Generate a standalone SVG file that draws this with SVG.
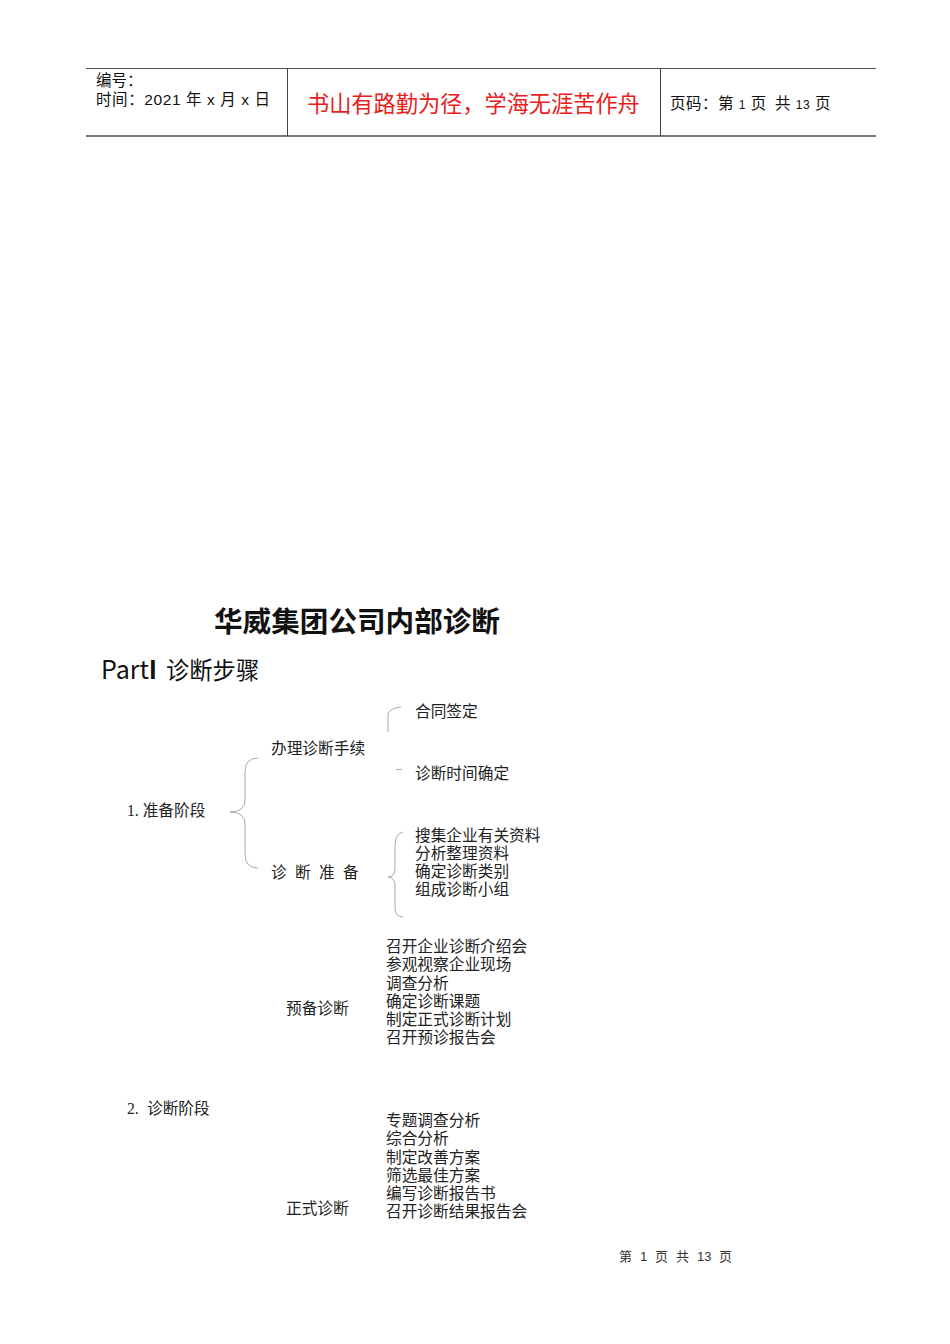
<svg xmlns="http://www.w3.org/2000/svg" width="950" height="1344" viewBox="0 0 950 1344">
<style>
.s{font-family:"Liberation Serif","Noto Sans CJK SC",serif;font-size:15.7px;fill:#222}
.h{font-family:"Liberation Sans","Noto Sans CJK SC",sans-serif;font-size:15.5px;fill:#111}
.b{fill:none;stroke:#aaa;stroke-width:1}
</style>
<rect width="950" height="1344" fill="#fff"/>
<g id="header">
<line x1="86" y1="68.5" x2="876" y2="68.5" stroke="#555" stroke-width="1"/>
<line x1="86" y1="136" x2="876" y2="136" stroke="#777" stroke-width="2"/>
<line x1="287.5" y1="68" x2="287.5" y2="136" stroke="#444" stroke-width="1"/>
<line x1="660.5" y1="68" x2="660.5" y2="136" stroke="#444" stroke-width="1"/>
<text class="h" x="96" y="86">编号：</text>
<text class="h" x="96" y="105" letter-spacing="0.6">时间：2021 年 x 月 x 日</text>
<text x="307" y="112" font-family="Noto Sans CJK SC,sans-serif" font-size="22.2" fill="#e8201c">书山有路勤为径，学海无涯苦作舟</text>
<text class="h" x="670" y="109" letter-spacing="0.5">页码：第 <tspan font-size="12">1</tspan> 页  <tspan x="775">共</tspan> <tspan font-size="12">13</tspan> 页</text>
</g>
<g id="title">
<text x="214" y="632" font-family="Noto Sans CJK SC,sans-serif" font-size="28.6" font-weight="bold" fill="#111">华威集团公司内部诊断</text>
<text x="101" y="679" font-family="Noto Sans CJK SC,sans-serif" font-size="25" fill="#111">Part<tspan font-weight="bold">I</tspan> <tspan x="166" font-size="23.3">诊断步骤</tspan></text>
</g>
<g id="connectors">
<path class="b" d="M258,758 Q245,758 245,772 L245,800 Q245,812 230,812 Q245,812 245,824 L245,854 Q245,868 258,868"/>
<path class="b" d="M401,707 Q388,708 388,716 L388,732"/>
<line class="b" x1="396" y1="769.5" x2="402" y2="769.5"/>
<path class="b" d="M403,832 Q395,834 395,845 L395,868 Q395,877 388,877 Q395,877 395,886 L395,908 Q395,917 403,917"/>
</g>
<g id="n-stage1"><text class="s" x="127" y="816">1. 准备阶段</text></g>
<g id="n-banli"><text class="s" x="271" y="754">办理诊断手续</text></g>
<g id="n-hetong"><text class="s" x="415" y="717">合同签定</text></g>
<g id="n-shijian"><text class="s" x="415" y="779">诊断时间确定</text></g>
<g id="n-zhunbei"><text class="s" x="271" y="878" letter-spacing="8.3">诊断准备</text></g>
<g id="n-zhunbei-list">
<text class="s" x="415" y="841">搜集企业有关资料</text>
<text class="s" x="415" y="859">分析整理资料</text>
<text class="s" x="415" y="877">确定诊断类别</text>
<text class="s" x="415" y="895">组成诊断小组</text>
</g>
<g id="n-yubei"><text class="s" x="286" y="1014">预备诊断</text></g>
<g id="n-yubei-list">
<text class="s" x="386" y="952">召开企业诊断介绍会</text>
<text class="s" x="386" y="970">参观视察企业现场</text>
<text class="s" x="386" y="989">调查分析</text>
<text class="s" x="386" y="1007">确定诊断课题</text>
<text class="s" x="386" y="1025">制定正式诊断计划</text>
<text class="s" x="386" y="1043">召开预诊报告会</text>
</g>
<g id="n-stage2"><text class="s" x="127" y="1114">2. <tspan x="147">诊断阶段</tspan></text></g>
<g id="n-zhengshi"><text class="s" x="286" y="1214">正式诊断</text></g>
<g id="n-zhengshi-list">
<text class="s" x="386" y="1126">专题调查分析</text>
<text class="s" x="386" y="1144">综合分析</text>
<text class="s" x="386" y="1163">制定改善方案</text>
<text class="s" x="386" y="1181">筛选最佳方案</text>
<text class="s" x="386" y="1199">编写诊断报告书</text>
<text class="s" x="386" y="1217">召开诊断结果报告会</text>
</g>
<g id="footer"><text y="1261" font-family="Liberation Sans,Noto Sans CJK SC,sans-serif" font-size="13" fill="#333"><tspan x="619">第</tspan> <tspan x="640">1</tspan> <tspan x="655">页</tspan> <tspan x="676">共</tspan> <tspan x="697">13</tspan> <tspan x="719">页</tspan></text></g>
</svg>
